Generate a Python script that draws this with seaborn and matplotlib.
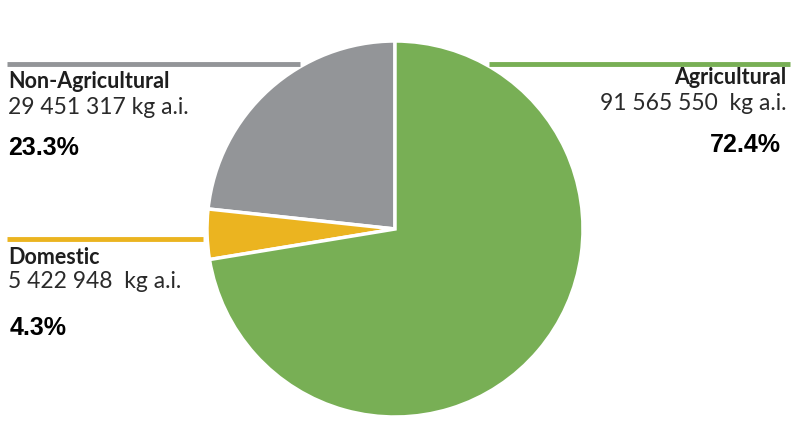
import matplotlib
matplotlib.use("Agg")
import matplotlib.pyplot as plt
import seaborn as sns

sns.set_theme(style="white")
plt.rcParams["font.family"] = ["Lato", "DejaVu Sans"]

# Data
categories = ["Non-Agricultural", "Domestic", "Agricultural"]
amounts = ["29 451 317 kg a.i.", "5 422 948  kg a.i.", "91 565 550  kg a.i."]
shares = [23.3, 4.3, 72.4]
colors = ["#939598", "#EBB420", "#78AF55"]

W, H = 800, 434
fig = plt.figure(figsize=(W / 100, H / 100), dpi=100)
ax = fig.add_axes([0, 0, 1, 1])

ax.pie(shares, colors=colors, startangle=90, counterclock=True,
       center=(395, H - 229), radius=188,
       wedgeprops=dict(edgecolor="white", linewidth=2.5))
ax.set_xlim(0, W)
ax.set_ylim(0, H)
ax.set_aspect("equal")
ax.axis("off")

def y(px):
    return H - px

txt = "#1e1e1e"
# label positions: (line x0, line x1, line y, text x, align, name y, amount y, pct y, pct x)
layout = {
    "Non-Agricultural": (7, 300, 64, 8, "left", 82, 107, 148, 8),
    "Domestic": (7, 203, 239, 8, "left", 257, 281, 328, 10),
    "Agricultural": (489, 790, 64, 786, "right", 78, 103, 145, 781),
}
for cat, amt, pct, col in zip(categories, amounts, shares, colors):
    x0, x1, ly, tx, ha, ny, ay, py, px = layout[cat]
    ax.plot([x0, x1], [y(ly), y(ly)], color=col, linewidth=3.5, solid_capstyle="butt")
    ax.text(tx, y(ny), cat, ha=ha, va="center", fontsize=15.5, fontweight="bold", color=txt)
    ax.text(tx, y(ay), amt, ha=ha, va="center", fontsize=16.5, color="#2a2a2a")
    ax.text(px, y(py), f"{pct}%", ha=ha, va="center", fontsize=18, fontweight="bold",
            color="black", family=["Liberation Sans", "DejaVu Sans"])

fig.savefig("out.png", dpi=100)
